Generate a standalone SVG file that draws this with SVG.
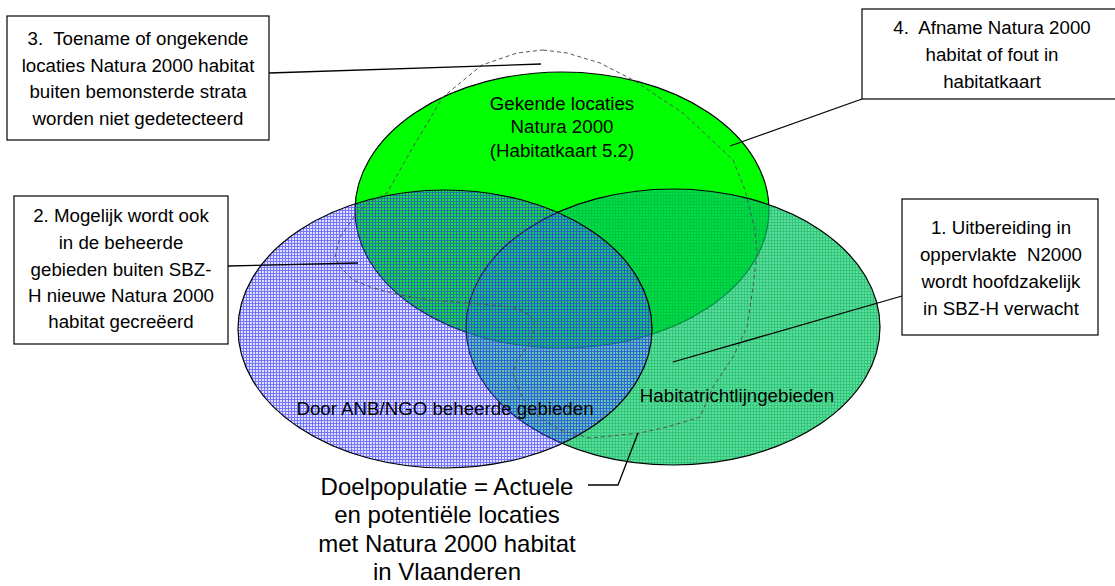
<svg xmlns="http://www.w3.org/2000/svg" width="1115" height="586" viewBox="0 0 1115 586">
<style>
text{font-family:"Liberation Sans",Arial,sans-serif;fill:#000;text-anchor:middle;white-space:pre}
.t19{font-size:18.7px}
.t24{font-size:24px}
.box{fill:#fff;stroke:#000;stroke-width:1.2}
.ell{stroke:#000;stroke-width:1.2}
.lead{fill:none;stroke:#000;stroke-width:1.3}
.dash{fill:none;stroke:#555;stroke-width:1;stroke-dasharray:4 3;stroke-linejoin:round}
</style>
<defs>
<pattern id="pBlue" patternUnits="userSpaceOnUse" width="3" height="3">
<rect width="3" height="3" fill="#7070ff" fill-opacity="0.22"/>
<rect width="1" height="3" fill="#2828ff" fill-opacity="0.58"/>
<rect x="1" width="2" height="1" fill="#2828ff" fill-opacity="0.58"/>
</pattern>
<pattern id="pTeal" patternUnits="userSpaceOnUse" width="3" height="3">
<rect width="3" height="3" fill="#00cc66" fill-opacity="0.65"/>
<rect width="1" height="3" fill="#00a048" fill-opacity="0.4"/>
<rect x="1" width="2" height="1" fill="#00a048" fill-opacity="0.4"/>
</pattern>
</defs>
<rect width="1115" height="586" fill="#fff"/>

<g id="natura-gekend">
<ellipse class="ell" cx="562" cy="210" rx="207" ry="138" fill="#00ff00"/>
</g>
<g id="habitatrichtlijn">
<ellipse class="ell" cx="673" cy="327" rx="207" ry="138" fill="url(#pTeal)"/>
</g>
<g id="anb-ngo">
<ellipse class="ell" cx="445" cy="329" rx="207" ry="139" fill="url(#pBlue)"/>
</g>

<g id="doelpopulatie-contour">
<path class="dash" d="M543 50 L567 53 L600 63 L633 80 L683 113 L733 160 L745 190 L755 230 L757 253 L753 287 L747 327 L733 357 L713 387 L700 417 L667 427 L640 433 L590 438 L560 430 L533 413 L520 393 L513 373 L517 360 L530 343 L535 327 L530 315 L513 307 L480 304 L430 300 L400 295 L373 288 L353 280 L340 267 L335 257 L340 237 L357 213 L373 200 L387 193 L413 147 L443 97 L482 65 L517 53 Z"/>
</g>

<g id="labels">
<text class="t19" x="562" y="110">Gekende locaties</text>
<text class="t19" x="562" y="133">Natura 2000</text>
<text class="t19" x="562" y="157">(Habitatkaart 5.2)</text>
<text class="t19" x="445" y="415">Door ANB/NGO beheerde gebieden</text>
<text class="t19" x="737" y="402">Habitatrichtlijngebieden</text>
</g>

<g id="connectors">
<line class="lead" x1="269" y1="73" x2="541" y2="64"/>
<line class="lead" x1="862" y1="99" x2="730" y2="146"/>
<line class="lead" x1="228" y1="266" x2="358" y2="263"/>
<line class="lead" x1="902" y1="296" x2="673" y2="362"/>
<polyline class="lead" points="588,485 618,485 638,433"/>
</g>

<g id="box3">
<rect class="box" x="7" y="16" width="262" height="124"/>
<text class="t19" x="138" y="45">3.  Toename of ongekende</text>
<text class="t19" x="138" y="72">locaties Natura 2000 habitat</text>
<text class="t19" x="138" y="98">buiten bemonsterde strata</text>
<text class="t19" x="138" y="125">worden niet gedetecteerd</text>
</g>

<g id="box4">
<rect class="box" x="862" y="9" width="262" height="90"/>
<text class="t19" x="992" y="34">4.  Afname Natura 2000</text>
<text class="t19" x="992" y="61">habitat of fout in</text>
<text class="t19" x="992" y="88">habitatkaart</text>
</g>

<g id="box2">
<rect class="box" x="14" y="196" width="214" height="148"/>
<text class="t19" x="121" y="222">2. Mogelijk wordt ook</text>
<text class="t19" x="121" y="249">in de beheerde</text>
<text class="t19" x="121" y="276">gebieden buiten SBZ-</text>
<text class="t19" x="121" y="302">H nieuwe Natura 2000</text>
<text class="t19" x="121" y="328">habitat gecreëerd</text>
</g>

<g id="box1">
<rect class="box" x="902" y="199" width="196" height="136"/>
<text class="t19" x="1001" y="234">1. Uitbereiding in</text>
<text class="t19" x="1001" y="261">oppervlakte  N2000</text>
<text class="t19" x="1001" y="288">wordt hoofdzakelijk</text>
<text class="t19" x="1001" y="315">in SBZ-H verwacht</text>
</g>

<g id="doelpopulatie">
<text class="t24" x="447" y="495">Doelpopulatie = Actuele</text>
<text class="t24" x="447" y="523">en potentiële locaties</text>
<text class="t24" x="447" y="552">met Natura 2000 habitat</text>
<text class="t24" x="447" y="580">in Vlaanderen</text>
</g>
</svg>
